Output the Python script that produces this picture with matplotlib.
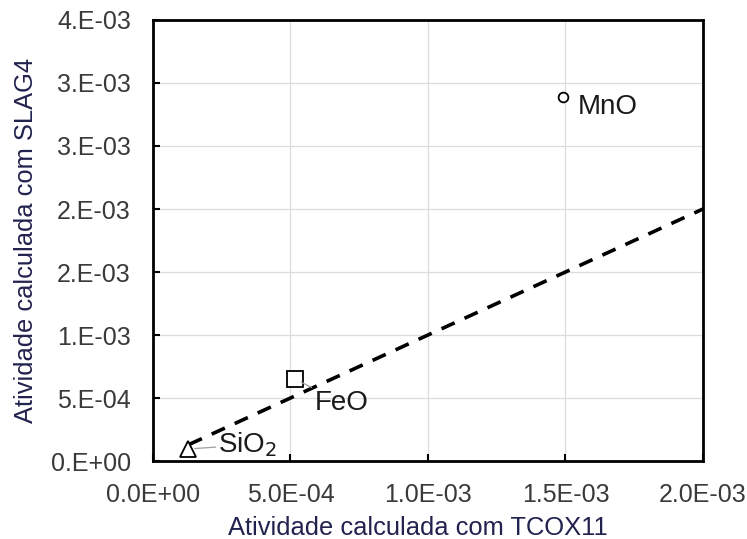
import matplotlib
matplotlib.use("Agg")
import matplotlib.pyplot as plt

plt.rcParams['font.family'] = ['Liberation Sans', 'DejaVu Sans']

# Oxide activities: TCOX11 (x) vs SLAG4 (y)
oxides = ["MnO", "FeO", "SiO$_2$"]
act_tcox11 = [0.00149, 0.000516, 0.000127]
act_slag4 = [0.00289, 0.000651, 0.000095]
markers = ["o", "s", "^"]
marker_sizes = [7, 12, 12]
label_offsets = [(11, -7), (14, -17), (22, 3)]

# reference line y = x
ref_x = [0.00013, 0.002]

x_ticks = [0.0, 0.0005, 0.001, 0.0015, 0.002]
x_tick_labels = ["0.0E+00", "5.0E-04", "1.0E-03", "1.5E-03", "2.0E-03"]
y_ticks = [0.0, 0.0005, 0.001, 0.0015, 0.002, 0.0025, 0.003, 0.0035]
y_tick_labels = ["0.E+00", "5.E-04", "1.E-03", "2.E-03", "2.E-03",
                 "3.E-03", "3.E-03", "4.E-03"]

fig = plt.figure(figsize=(7.47, 5.39), dpi=100)
ax = fig.add_axes([0.2048, 0.1447, 0.7363, 0.8182])

ax.plot(ref_x, ref_x, color="black", lw=2.6, dashes=(4.0, 3.0), zorder=2)

for name, x, y, m, ms, off in zip(oxides, act_tcox11, act_slag4, markers,
                                  marker_sizes, label_offsets):
    ax.plot([x], [y], marker=m, ms=ms, mfc="white", mec="black", mew=1.3,
            linestyle="none", zorder=3)
    lead = name != "MnO"
    ax.annotate(name, xy=(x, y), xytext=off, textcoords="offset points",
                ha="left", va="center", fontsize=20, color="#1a1a1a",
                arrowprops=dict(arrowstyle="-", color="#a0a0a0", lw=0.9,
                                shrinkA=0, shrinkB=5) if lead else None,
                zorder=4)

ax.set_xlim(0, 0.002)
ax.set_ylim(0, 0.0035)
ax.set_xticks(x_ticks)
ax.set_xticklabels(x_tick_labels)
ax.set_yticks(y_ticks)
ax.set_yticklabels(y_tick_labels)

ax.grid(True, color="#dcdcdc", lw=0.9, zorder=0)
ax.set_axisbelow(True)
for s in ax.spines.values():
    s.set_linewidth(2.0)
    s.set_color("black")

ax.tick_params(direction="in", length=5, width=1.5, labelsize=18,
               labelcolor="#3a3a3a", pad=16)

label_color = "#22224f"
ax.set_xlabel("Atividade calculada com TCOX11", fontsize=18.4,
              color=label_color)
ax.set_ylabel("Atividade calculada com SLAG4", fontsize=18.4,
              color=label_color, labelpad=9)
ax.xaxis.set_label_coords(0.481, -0.125)

fig.savefig("out.png", dpi=100)
